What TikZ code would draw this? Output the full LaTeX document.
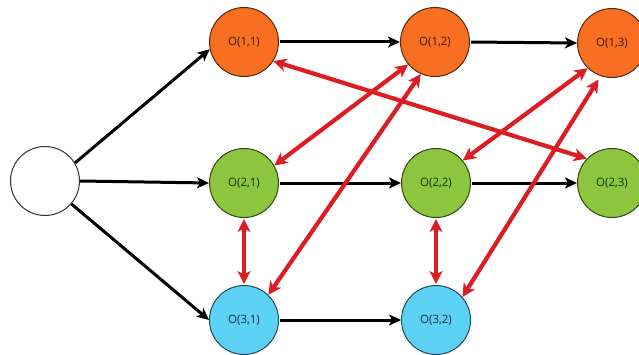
\documentclass[tikz,border=0pt]{standalone}
\usepackage{fontspec}
\setmainfont{Open Sans}
\usetikzlibrary{arrows.meta}
\definecolor{orangefill}{HTML}{F96F22}
\definecolor{greenfill}{HTML}{8CC63F}
\definecolor{cyanfill}{HTML}{5CD2F6}
\definecolor{redline}{HTML}{DD1D24}
\tikzset{
  state/.style={circle, draw=#1!35!black, line width=1pt, fill=#1,
    minimum size=69pt, inner sep=0pt, text=#1!22!black,
    font=\fontsize{11.5}{13}\selectfont},
  startstate/.style={circle, draw=black!80, line width=1pt, fill=white,
    minimum size=69pt, inner sep=0pt},
  flow/.style={line width=3pt, black,
    -{Stealth[length=12pt,width=11pt,inset=3pt]}},
  link/.style={line width=4.2pt, redline,
    {Stealth[length=13pt,width=13pt,inset=3.5pt]}-{Stealth[length=13pt,width=13pt,inset=3.5pt]}},
}
\begin{document}
\begin{tikzpicture}[x=1pt,y=1pt]
  \useasboundingbox (0,0) rectangle (639,354);

  % states
  \node[startstate] (s) at (45,173) {};
  \node[state=orangefill] (n11) at (244,312) {O(1,1)};
  \node[state=orangefill] (n12) at (435,312) {O(1,2)};
  \node[state=orangefill] (n13) at (612,311) {O(1,3)};
  \node[state=greenfill]  (n21) at (244,171) {O(2,1)};
  \node[state=greenfill]  (n22) at (436,171) {O(2,2)};
  \node[state=greenfill]  (n23) at (612,171) {O(2,3)};
  \node[state=cyanfill]   (n31) at (244,34)  {O(3,1)};
  \node[state=cyanfill]   (n32) at (436,34)  {O(3,2)};

  % forward transitions
  \draw[flow] (s.31) -- (n11.192);
  \draw[flow] (s.east) -- (n21.west);
  \draw[flow] (s.-41) -- (n31.180);
  \draw[flow, shorten <=1pt] (n11.east) -- (n12.west);
  \draw[flow, shorten <=1pt] (n12.east) -- (n13.west);
  \draw[flow, shorten <=1pt] (n21.east) -- (n22.west);
  \draw[flow, shorten <=1pt] (n22.east) -- (n23.west);
  \draw[flow, shorten <=1pt] (n31.east) -- (n32.west);

  % two-way links
  \draw[link] (n11.-33) -- (n23.136);
  \draw[link] (n12.-140) -- (n21.30);
  \draw[link] (n12.-114) -- (n31.46);
  \draw[link] (n13.-134) -- (n22.40);
  \draw[link, shorten <=4pt] (n13.-109) -- (n32.41);
  \draw[link, shorten <=1pt, shorten >=1pt] (n21.south) -- (n31.north);
  \draw[link, shorten <=1pt, shorten >=1pt] (n22.south) -- (n32.north);
\end{tikzpicture}
\end{document}
